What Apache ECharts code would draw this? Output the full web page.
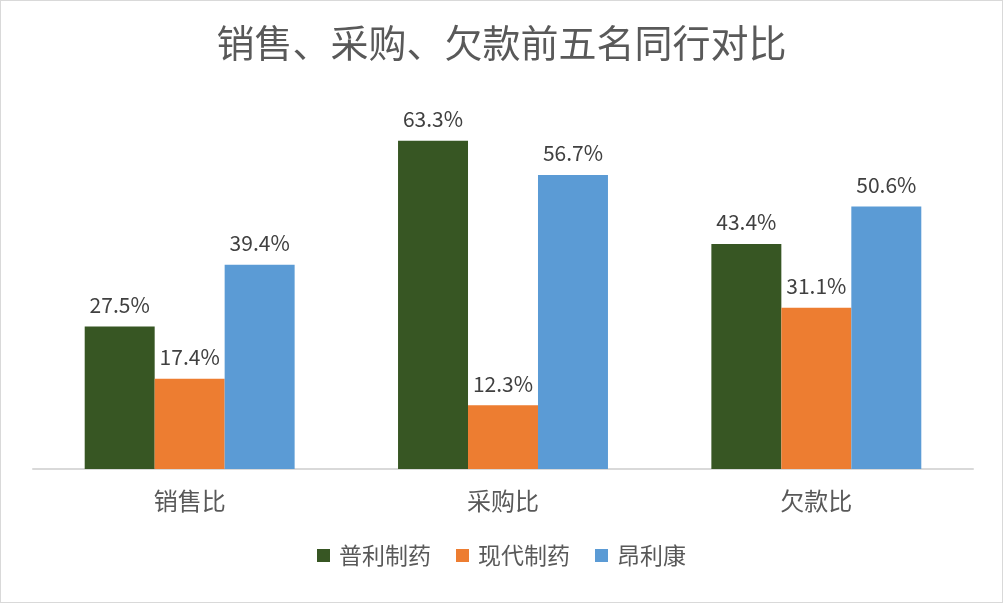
<!DOCTYPE html>
<html>
<head>
<meta charset="utf-8">
<script src="https://cdn.jsdelivr.net/npm/echarts@6/dist/echarts.min.js"></script>
<style>
	html, body { margin: 0; padding: 0; background: #fff; }
	#main { width: 1001px; height: 601px; border: 1px solid #d9d9d9; }
</style>
</head>
<body>
<div id="main"></div>
<script>
// 分类
var categories = ['销售比', '采购比', '欠款比'];
// 各公司数据（%）
var puli = [27.5, 63.3, 43.4];
var xiandai = [17.4, 12.3, 31.1];
var anglikang = [39.4, 56.7, 50.6];
var seriesNames = ['普利制药', '现代制药', '昂利康'];
var colors = ['#375623', '#ed7d31', '#5b9bd5'];

var font = '"Noto Sans CJK SC", "Noto Sans", sans-serif';

function makeSeries(name, data) {
	return {
		name: name,
		type: 'bar',
		data: data,
		barGap: '0%',
		barCategoryGap: '33%',
		label: {
			show: true,
			position: 'top',
			distance: 11,
			color: '#404040',
			fontSize: 21,
			fontFamily: font,
			formatter: function(p) {
				return p.value.toFixed(1) + '%';
			}
		}
	};
}

var myChart = echarts.init(document.getElementById('main'));

var option = {
	backgroundColor: '#fff',
	color: colors,
	title: {
		text: '销售、采购、欠款前五名同行对比',
		left: 'center',
		top: 18,
		textStyle: {
			color: '#595959',
			fontSize: 38,
			fontWeight: 'normal',
			fontFamily: font
		}
	},
	legend: {
		data: seriesNames,
		bottom: 30,
		left: 'center',
		itemWidth: 13,
		itemHeight: 13,
		itemGap: 25,
		icon: 'rect',
		textStyle: {
			color: '#595959',
			fontSize: 23,
			padding: [0, 0, 0, 4],
			fontFamily: font
		}
	},
	grid: {
		left: 32,
		right: 29,
		top: 105,
		bottom: 133
	},
	xAxis: {
		type: 'category',
		data: categories,
		axisLine: { lineStyle: { color: '#d9d9d9', width: 2 } },
		axisTick: { show: false },
		axisLabel: {
			color: '#595959',
			fontSize: 24,
			margin: 20,
			fontFamily: font
		}
	},
	yAxis: {
		type: 'value',
		min: 0,
		max: 70,
		show: false,
		splitLine: { show: false }
	},
	series: [
		makeSeries(seriesNames[0], puli),
		makeSeries(seriesNames[1], xiandai),
		makeSeries(seriesNames[2], anglikang)
	]
};

myChart.setOption(option);
</script>
</body>
</html>
